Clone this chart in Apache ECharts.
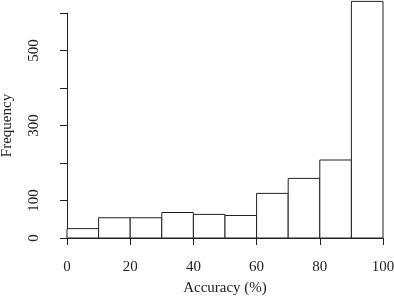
<!DOCTYPE html>
<html>
<head>
<meta charset="utf-8">
<script src="https://cdn.jsdelivr.net/npm/echarts@6/dist/echarts.min.js"></script>
<style>
  html, body { margin: 0; padding: 0; background: #fff; }
  #chart { width: 394px; height: 300px; }
</style>
</head>
<body>
<div id="chart"></div>
<script>
// histogram bins (Accuracy %) and their counts
var binStarts = [0, 10, 20, 30, 40, 50, 60, 70, 80, 90];
var binEnds = [10, 20, 30, 40, 50, 60, 70, 80, 90, 100];
var counts = [25, 54, 54, 68, 63, 60, 119, 159, 208, 631];
var yTickLabels = [0, 100, 300, 500];

var font = '"Liberation Serif", "DejaVu Serif", serif';
var ink = '#222';

var data = binStarts.map(function (s, i) {
    return [s, binEnds[i], counts[i]];
});

var chart = echarts.init(document.getElementById('chart'));
chart.setOption({
    animation: false,
    grid: { left: 67, right: 11, top: 13, bottom: 62, containLabel: false, outerBoundsMode: 'none' },
    xAxis: {
        type: 'value',
        min: 0,
        max: 100,
        interval: 20,
        offset: 10,
        name: 'Accuracy (%)',
        nameLocation: 'middle',
        nameGap: 33,
        nameTextStyle: { fontFamily: font, fontSize: 15, color: ink },
        axisLine: { show: true, lineStyle: { color: ink, width: 1 } },
        axisTick: { show: true, inside: false, length: 7, lineStyle: { color: ink } },
        axisLabel: { fontFamily: font, fontSize: 15, color: ink, margin: 12 },
        splitLine: { show: false }
    },
    yAxis: {
        type: 'value',
        min: 0,
        max: 600,
        interval: 100,
        offset: 13,
        name: 'Frequency',
        nameLocation: 'middle',
        nameRotate: 90,
        nameGap: 39,
        nameTextStyle: { fontFamily: font, fontSize: 15, color: ink },
        axisLine: { show: true, lineStyle: { color: ink, width: 1 } },
        axisTick: { show: true, length: 7, lineStyle: { color: ink } },
        axisLabel: {
            fontFamily: font, fontSize: 15, color: ink, rotate: 90, margin: 12,
            formatter: function (v) { return yTickLabels.indexOf(v) >= 0 ? String(v) : ''; }
        },
        splitLine: { show: false }
    },
    series: [{
        type: 'custom',
        clip: false,
        data: data,
        encode: { x: [0, 1], y: 2 },
        renderItem: function (params, api) {
            var p0 = api.coord([api.value(0), 0]);
            var p1 = api.coord([api.value(1), api.value(2)]);
            return {
                type: 'rect',
                shape: { x: p0[0], y: p1[1], width: p1[0] - p0[0], height: p0[1] - p1[1] },
                style: { fill: '#fff', stroke: ink, lineWidth: 1 }
            };
        }
    }]
});
</script>
</body>
</html>
